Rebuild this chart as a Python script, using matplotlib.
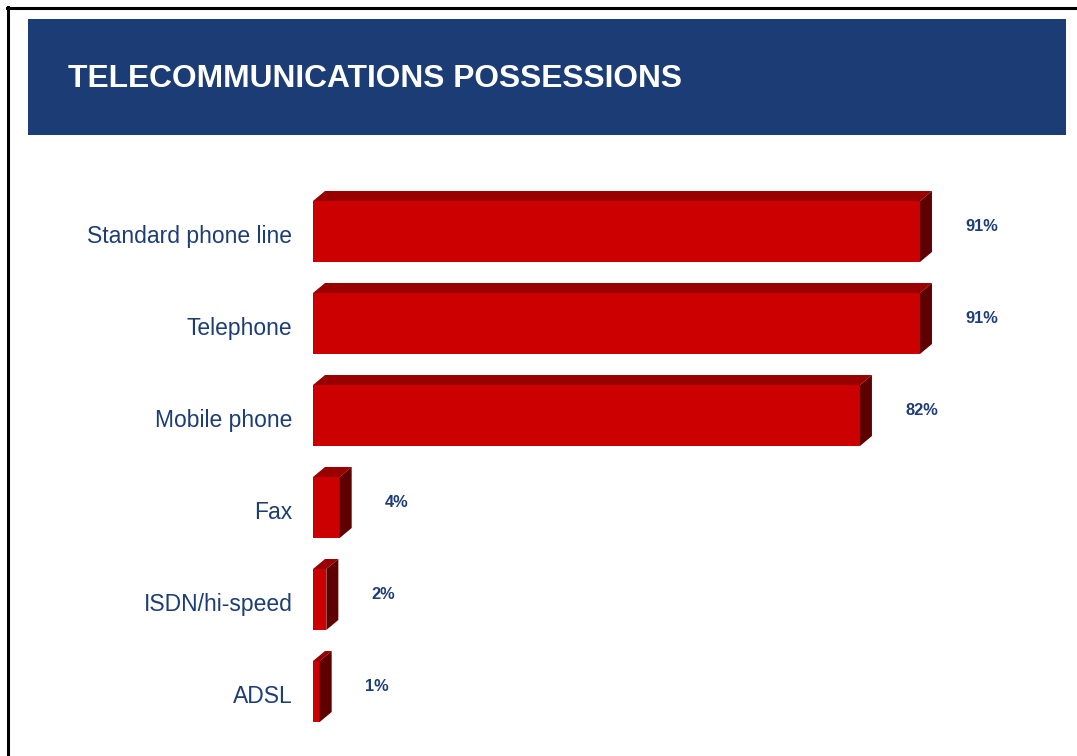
import matplotlib
matplotlib.use("Agg")
import matplotlib.pyplot as plt
from matplotlib.patches import Polygon, Rectangle
from matplotlib.lines import Line2D
from matplotlib.transforms import IdentityTransform
import numpy as np

plt.rcParams['font.family'] = ['Liberation Sans', 'DejaVu Sans']

title = "TELECOMMUNICATIONS POSSESSIONS"
categories = ["Standard phone line", "Telephone", "Mobile phone", "Fax",
              "ISDN/hi-speed", "ADSL"]
values = [91, 91, 82, 4, 2, 1]

W, H = 1077, 756
fig = plt.figure(figsize=(W / 100, H / 100), dpi=100)
fig.patch.set_facecolor("white")

navy = "#1D3D76"
front_c = "#CC0000"
top_c = "#990000"
side_c = "#5E0000"

# frame lines (top and left)
fig.add_artist(Line2D([7 / W, 1], [1 - 8 / H, 1 - 8 / H], color="black", lw=2.2,
                      transform=fig.transFigure))
fig.add_artist(Line2D([8 / W, 8 / W], [0, 1 - 7 / H], color="black", lw=2.2,
                      transform=fig.transFigure))

# header banner
fig.add_artist(Rectangle((28 / W, 1 - 135 / H), (1066 - 28) / W, (135 - 19) / H,
                         facecolor="#1C3C75", edgecolor="none",
                         transform=fig.transFigure))
fig.text(68 / W, 1 - 79 / H, title, color="white", fontsize=22.9,
         fontweight="bold", ha="left", va="center")

# bar chart area
ax_left, ax_right = 313, 980
ax_top, ax_bot = 185.5, 737.5
ax = fig.add_axes([ax_left / W, 1 - ax_bot / H, (ax_right - ax_left) / W,
                   (ax_bot - ax_top) / H])
ax.set_xlim(0, 100)
ax.set_ylim(5.5, -0.5)
ax.axis("off")

pos = np.arange(len(categories))
bh = 0.663
ax.barh(pos, values, height=bh, color=front_c, edgecolor="none", zorder=3)

# 3D depth faces (offset in pixels)
ddx, ddy = 12, 10
to_disp = ax.transData.transform
for y, v in zip(pos, values):
    top_y = y - bh / 2
    bot_y = y + bh / 2
    tl = to_disp((0, top_y))
    tr = to_disp((v, top_y))
    br = to_disp((v, bot_y))
    off = np.array([ddx, ddy])
    top_face = [tl, tr, tr + off, tl + off]
    side_face = [tr, br, br + off, tr + off]
    fig.add_artist(Polygon(top_face, closed=True, facecolor=top_c,
                           edgecolor="none", transform=IdentityTransform()))
    fig.add_artist(Polygon(side_face, closed=True, facecolor=side_c,
                           edgecolor="none", transform=IdentityTransform()))
    ax.text(v + 6.8, y - 0.05, f"{v}%", color=navy, fontsize=11.8,
            fontweight="bold", ha="left", va="center", zorder=4)

for y, c in zip(pos, categories):
    ax.text(-3.1, y + 0.05, c, color=navy, fontsize=16.5, ha="right",
            va="center", clip_on=False)

fig.savefig("out.png", dpi=100, facecolor="white")
